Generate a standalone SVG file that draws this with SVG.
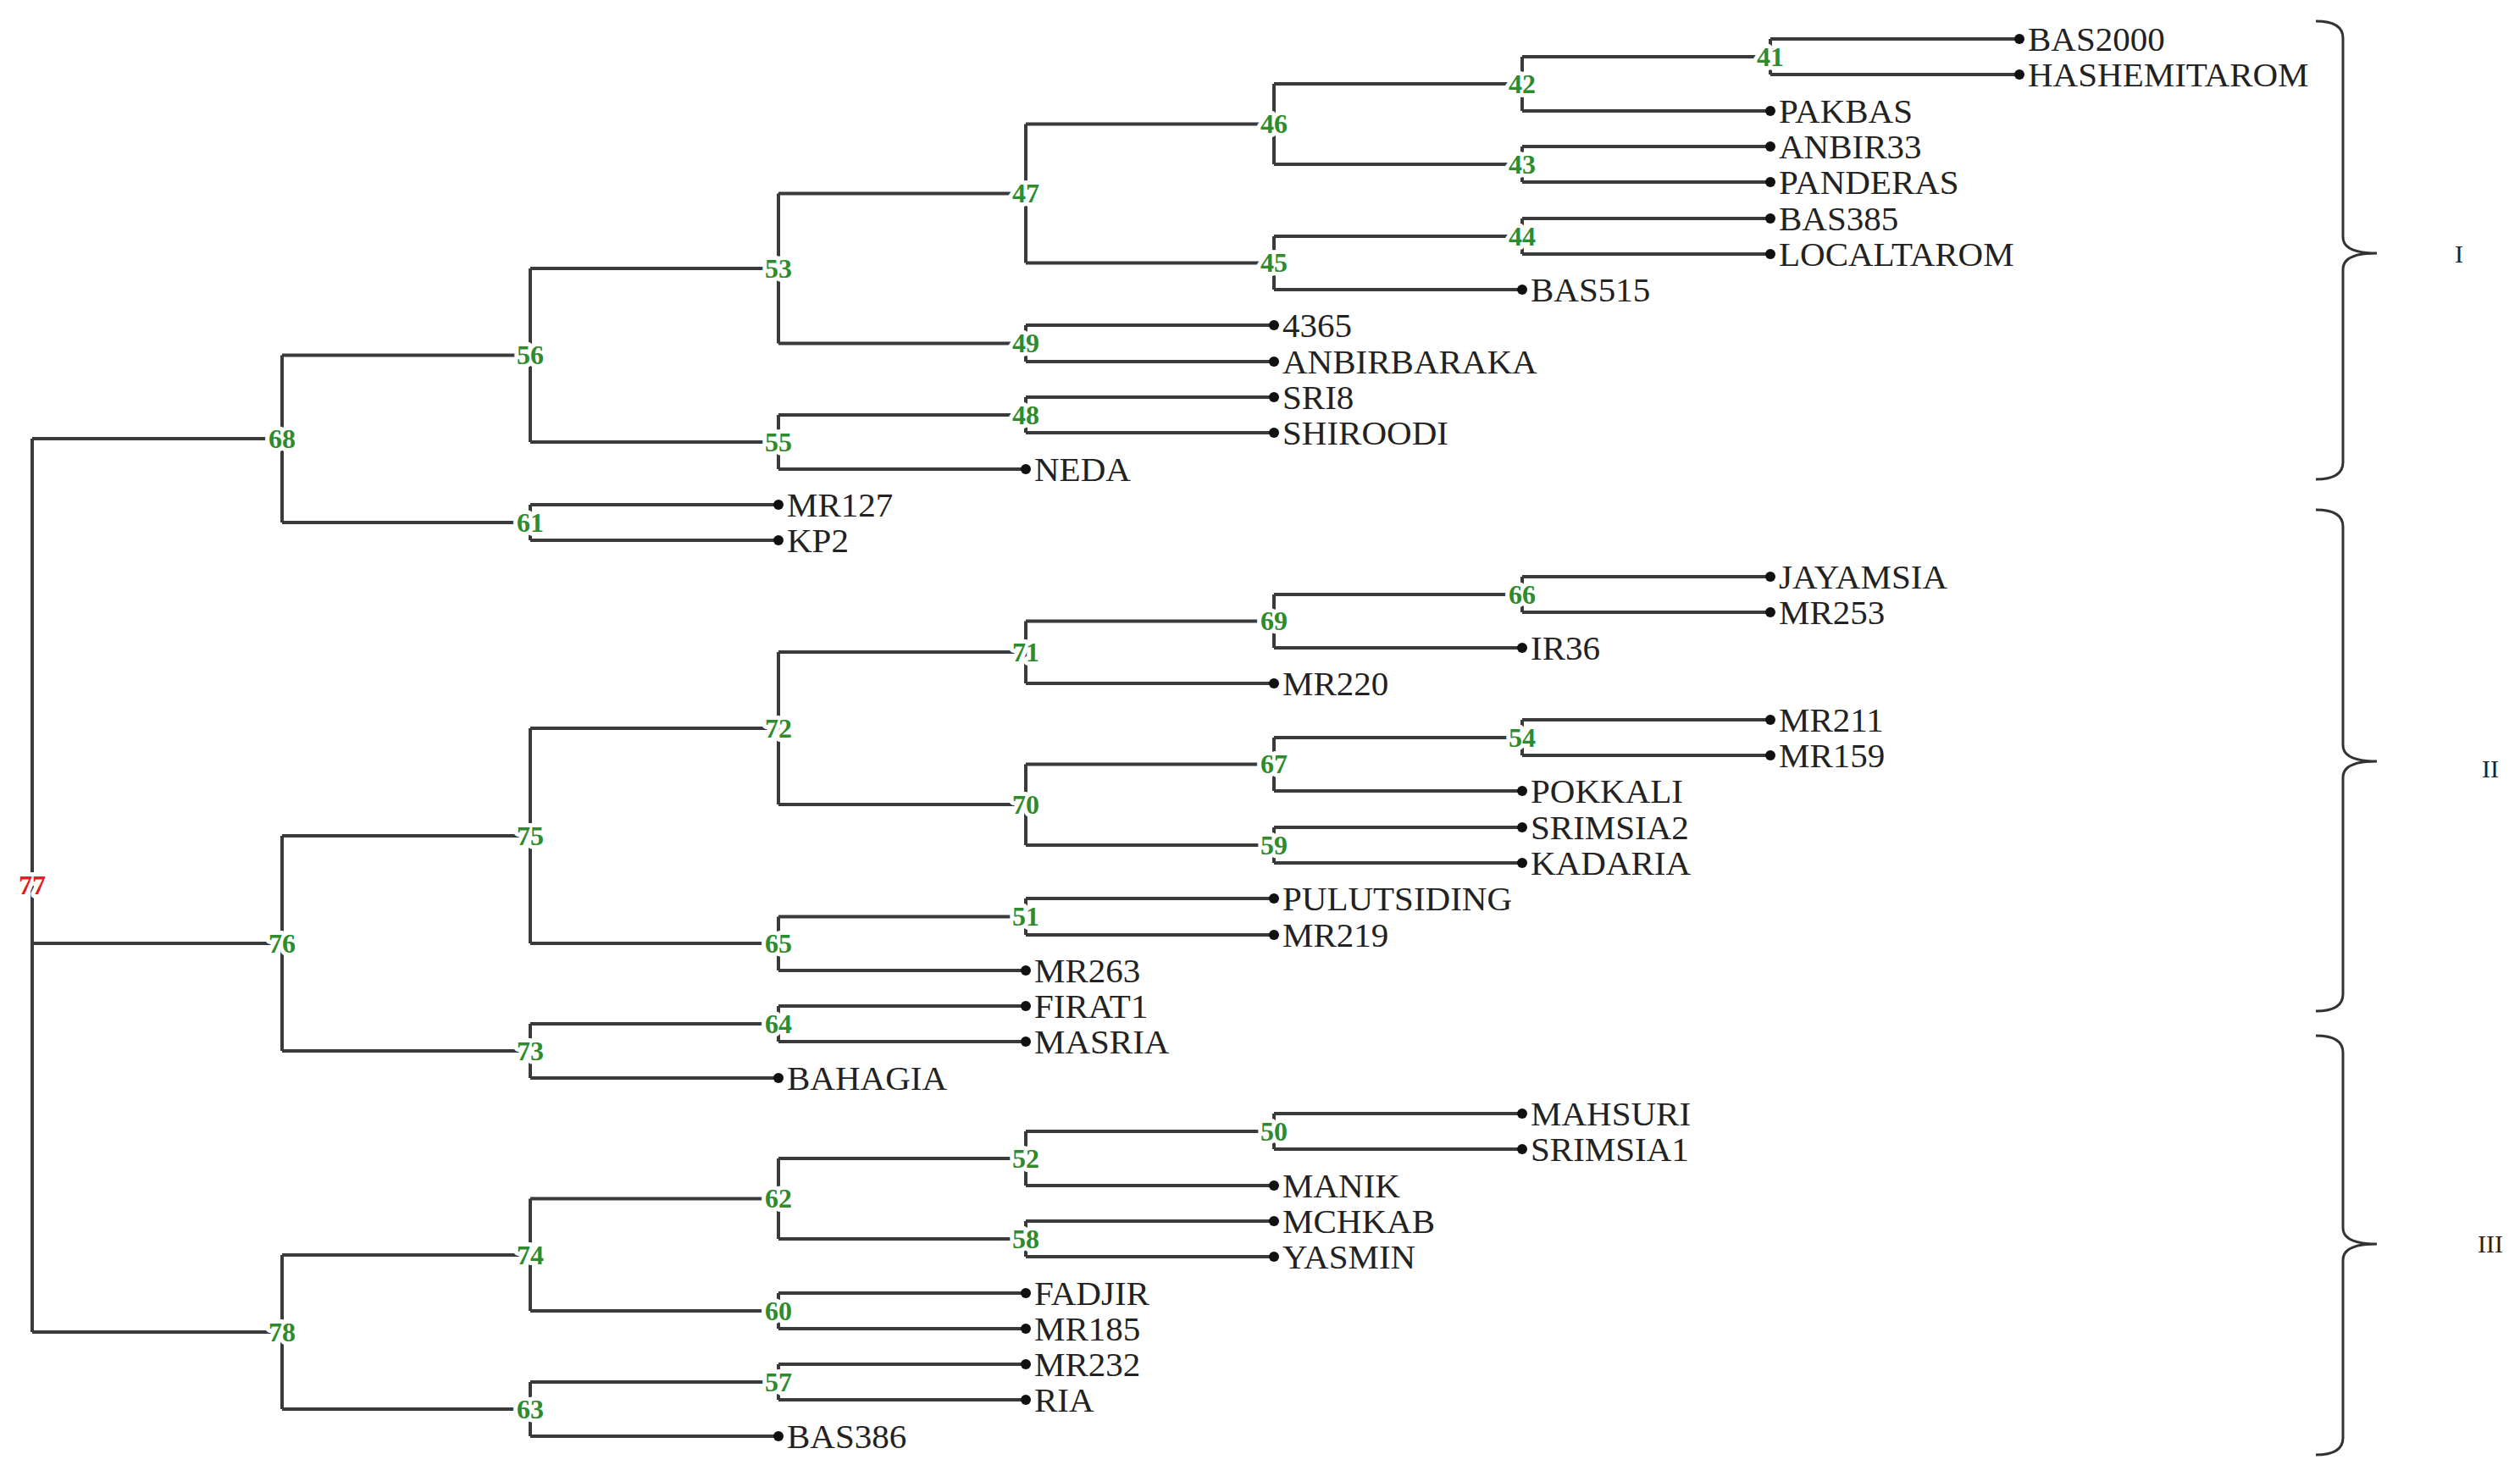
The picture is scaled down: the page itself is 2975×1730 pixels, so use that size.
<svg xmlns="http://www.w3.org/2000/svg" width="2975" height="1730" viewBox="0 0 2975 1730">
<style>
.e{fill:none;stroke:#3a3a3a;stroke-width:4}
.n{font-family:"Liberation Serif",serif;font-weight:bold;font-size:32px;fill:#2e8b2e;text-anchor:middle;stroke:#fff;stroke-width:10px;paint-order:stroke;stroke-linejoin:round}
.r{fill:#e02020}
.l{font-family:"Liberation Serif",serif;font-size:41px;fill:#222}
.d{fill:#111}
.b{fill:none;stroke:#333;stroke-width:3}
.c{font-family:"Liberation Serif",serif;font-size:30px;fill:#222}
</style>
<g id="connectors">
<path class="e" d="M2090 46V88M2090 46H2384M2090 88H2384"/>
<path class="e" d="M1797 67V131M1797 67H2090M1797 131H2090"/>
<path class="e" d="M1797 173V215M1797 173H2090M1797 215H2090"/>
<path class="e" d="M1504 99V194M1504 99H1797M1504 194H1797"/>
<path class="e" d="M1797 258V300M1797 258H2090M1797 300H2090"/>
<path class="e" d="M1504 279V342M1504 279H1797M1504 342H1797"/>
<path class="e" d="M1211 146.5V310.5M1211 146.5H1504M1211 310.5H1504"/>
<path class="e" d="M1211 384V427M1211 384H1504M1211 427H1504"/>
<path class="e" d="M919 228.5V405.5M919 228.5H1211M919 405.5H1211"/>
<path class="e" d="M1211 469V511M1211 469H1504M1211 511H1504"/>
<path class="e" d="M919 490V554M919 490H1211M919 554H1211"/>
<path class="e" d="M626 317V522M626 317H919M626 522H919"/>
<path class="e" d="M626 596V638M626 596H919M626 638H919"/>
<path class="e" d="M333 419.5V617M333 419.5H626M333 617H626"/>
<path class="e" d="M1797 681V723M1797 681H2090M1797 723H2090"/>
<path class="e" d="M1504 702V765M1504 702H1797M1504 765H1797"/>
<path class="e" d="M1211 733.5V807M1211 733.5H1504M1211 807H1504"/>
<path class="e" d="M1797 850V892M1797 850H2090M1797 892H2090"/>
<path class="e" d="M1504 871V934M1504 871H1797M1504 934H1797"/>
<path class="e" d="M1504 977V1019M1504 977H1797M1504 1019H1797"/>
<path class="e" d="M1211 902.5V998M1211 902.5H1504M1211 998H1504"/>
<path class="e" d="M919 770V950M919 770H1211M919 950H1211"/>
<path class="e" d="M1211 1061V1104M1211 1061H1504M1211 1104H1504"/>
<path class="e" d="M919 1082.5V1146M919 1082.5H1211M919 1146H1211"/>
<path class="e" d="M626 860V1114M626 860H919M626 1114H919"/>
<path class="e" d="M919 1188V1230M919 1188H1211M919 1230H1211"/>
<path class="e" d="M626 1209V1273M626 1209H919M626 1273H919"/>
<path class="e" d="M333 987V1241M333 987H626M333 1241H626"/>
<path class="e" d="M1504 1315V1357M1504 1315H1797M1504 1357H1797"/>
<path class="e" d="M1211 1336V1400M1211 1336H1504M1211 1400H1504"/>
<path class="e" d="M1211 1442V1484M1211 1442H1504M1211 1484H1504"/>
<path class="e" d="M919 1368V1463M919 1368H1211M919 1463H1211"/>
<path class="e" d="M919 1527V1569M919 1527H1211M919 1569H1211"/>
<path class="e" d="M626 1415.5V1548M626 1415.5H919M626 1548H919"/>
<path class="e" d="M919 1611V1653M919 1611H1211M919 1653H1211"/>
<path class="e" d="M626 1632V1696M626 1632H919M626 1696H919"/>
<path class="e" d="M333 1482V1664M333 1482H626M333 1664H626"/>
<path class="e" d="M38 518V1573M38 518H333M38 1114H333M38 1573H333"/>
</g>
<g id="inner-nodes">
<g id="n41"><text class="n" x="2090" y="78">41</text></g>
<g id="n42"><text class="n" x="1797" y="110">42</text></g>
<g id="n43"><text class="n" x="1797" y="205">43</text></g>
<g id="n46"><text class="n" x="1504" y="157">46</text></g>
<g id="n44"><text class="n" x="1797" y="290">44</text></g>
<g id="n45"><text class="n" x="1504" y="321">45</text></g>
<g id="n47"><text class="n" x="1211" y="239">47</text></g>
<g id="n49"><text class="n" x="1211" y="416">49</text></g>
<g id="n53"><text class="n" x="919" y="328">53</text></g>
<g id="n48"><text class="n" x="1211" y="501">48</text></g>
<g id="n55"><text class="n" x="919" y="533">55</text></g>
<g id="n56"><text class="n" x="626" y="430">56</text></g>
<g id="n61"><text class="n" x="626" y="628">61</text></g>
<g id="n68"><text class="n" x="333" y="529">68</text></g>
<g id="n66"><text class="n" x="1797" y="713">66</text></g>
<g id="n69"><text class="n" x="1504" y="744">69</text></g>
<g id="n71"><text class="n" x="1211" y="781">71</text></g>
<g id="n54"><text class="n" x="1797" y="882">54</text></g>
<g id="n67"><text class="n" x="1504" y="913">67</text></g>
<g id="n59"><text class="n" x="1504" y="1009">59</text></g>
<g id="n70"><text class="n" x="1211" y="961">70</text></g>
<g id="n72"><text class="n" x="919" y="871">72</text></g>
<g id="n51"><text class="n" x="1211" y="1093">51</text></g>
<g id="n65"><text class="n" x="919" y="1125">65</text></g>
<g id="n75"><text class="n" x="626" y="998">75</text></g>
<g id="n64"><text class="n" x="919" y="1220">64</text></g>
<g id="n73"><text class="n" x="626" y="1252">73</text></g>
<g id="n76"><text class="n" x="333" y="1125">76</text></g>
<g id="n50"><text class="n" x="1504" y="1347">50</text></g>
<g id="n52"><text class="n" x="1211" y="1379">52</text></g>
<g id="n58"><text class="n" x="1211" y="1474">58</text></g>
<g id="n62"><text class="n" x="919" y="1426">62</text></g>
<g id="n60"><text class="n" x="919" y="1559">60</text></g>
<g id="n74"><text class="n" x="626" y="1493">74</text></g>
<g id="n57"><text class="n" x="919" y="1643">57</text></g>
<g id="n63"><text class="n" x="626" y="1675">63</text></g>
<g id="n78"><text class="n" x="333" y="1584">78</text></g>
<g id="n77"><text class="n r" x="38" y="1056">77</text></g>
</g>
<g id="leaves">
<g id="BAS2000"><circle class="d" cx="2384" cy="46" r="6"/><text class="l" x="2394" y="60">BAS2000</text></g>
<g id="HASHEMITAROM"><circle class="d" cx="2384" cy="88" r="6"/><text class="l" x="2394" y="102">HASHEMITAROM</text></g>
<g id="PAKBAS"><circle class="d" cx="2090" cy="131" r="6"/><text class="l" x="2100" y="145">PAKBAS</text></g>
<g id="ANBIR33"><circle class="d" cx="2090" cy="173" r="6"/><text class="l" x="2100" y="187">ANBIR33</text></g>
<g id="PANDERAS"><circle class="d" cx="2090" cy="215" r="6"/><text class="l" x="2100" y="229">PANDERAS</text></g>
<g id="BAS385"><circle class="d" cx="2090" cy="258" r="6"/><text class="l" x="2100" y="272">BAS385</text></g>
<g id="LOCALTAROM"><circle class="d" cx="2090" cy="300" r="6"/><text class="l" x="2100" y="314">LOCALTAROM</text></g>
<g id="BAS515"><circle class="d" cx="1797" cy="342" r="6"/><text class="l" x="1807" y="356">BAS515</text></g>
<g id="L4365"><circle class="d" cx="1504" cy="384" r="6"/><text class="l" x="1514" y="398">4365</text></g>
<g id="ANBIRBARAKA"><circle class="d" cx="1504" cy="427" r="6"/><text class="l" x="1514" y="441">ANBIRBARAKA</text></g>
<g id="SRI8"><circle class="d" cx="1504" cy="469" r="6"/><text class="l" x="1514" y="483">SRI8</text></g>
<g id="SHIROODI"><circle class="d" cx="1504" cy="511" r="6"/><text class="l" x="1514" y="525">SHIROODI</text></g>
<g id="NEDA"><circle class="d" cx="1211" cy="554" r="6"/><text class="l" x="1221" y="568">NEDA</text></g>
<g id="MR127"><circle class="d" cx="919" cy="596" r="6"/><text class="l" x="929" y="610">MR127</text></g>
<g id="KP2"><circle class="d" cx="919" cy="638" r="6"/><text class="l" x="929" y="652">KP2</text></g>
<g id="JAYAMSIA"><circle class="d" cx="2090" cy="681" r="6"/><text class="l" x="2100" y="695">JAYAMSIA</text></g>
<g id="MR253"><circle class="d" cx="2090" cy="723" r="6"/><text class="l" x="2100" y="737">MR253</text></g>
<g id="IR36"><circle class="d" cx="1797" cy="765" r="6"/><text class="l" x="1807" y="779">IR36</text></g>
<g id="MR220"><circle class="d" cx="1504" cy="807" r="6"/><text class="l" x="1514" y="821">MR220</text></g>
<g id="MR211"><circle class="d" cx="2090" cy="850" r="6"/><text class="l" x="2100" y="864">MR211</text></g>
<g id="MR159"><circle class="d" cx="2090" cy="892" r="6"/><text class="l" x="2100" y="906">MR159</text></g>
<g id="POKKALI"><circle class="d" cx="1797" cy="934" r="6"/><text class="l" x="1807" y="948">POKKALI</text></g>
<g id="SRIMSIA2"><circle class="d" cx="1797" cy="977" r="6"/><text class="l" x="1807" y="991">SRIMSIA2</text></g>
<g id="KADARIA"><circle class="d" cx="1797" cy="1019" r="6"/><text class="l" x="1807" y="1033">KADARIA</text></g>
<g id="PULUTSIDING"><circle class="d" cx="1504" cy="1061" r="6"/><text class="l" x="1514" y="1075">PULUTSIDING</text></g>
<g id="MR219"><circle class="d" cx="1504" cy="1104" r="6"/><text class="l" x="1514" y="1118">MR219</text></g>
<g id="MR263"><circle class="d" cx="1211" cy="1146" r="6"/><text class="l" x="1221" y="1160">MR263</text></g>
<g id="FIRAT1"><circle class="d" cx="1211" cy="1188" r="6"/><text class="l" x="1221" y="1202">FIRAT1</text></g>
<g id="MASRIA"><circle class="d" cx="1211" cy="1230" r="6"/><text class="l" x="1221" y="1244">MASRIA</text></g>
<g id="BAHAGIA"><circle class="d" cx="919" cy="1273" r="6"/><text class="l" x="929" y="1287">BAHAGIA</text></g>
<g id="MAHSURI"><circle class="d" cx="1797" cy="1315" r="6"/><text class="l" x="1807" y="1329">MAHSURI</text></g>
<g id="SRIMSIA1"><circle class="d" cx="1797" cy="1357" r="6"/><text class="l" x="1807" y="1371">SRIMSIA1</text></g>
<g id="MANIK"><circle class="d" cx="1504" cy="1400" r="6"/><text class="l" x="1514" y="1414">MANIK</text></g>
<g id="MCHKAB"><circle class="d" cx="1504" cy="1442" r="6"/><text class="l" x="1514" y="1456">MCHKAB</text></g>
<g id="YASMIN"><circle class="d" cx="1504" cy="1484" r="6"/><text class="l" x="1514" y="1498">YASMIN</text></g>
<g id="FADJIR"><circle class="d" cx="1211" cy="1527" r="6"/><text class="l" x="1221" y="1541">FADJIR</text></g>
<g id="MR185"><circle class="d" cx="1211" cy="1569" r="6"/><text class="l" x="1221" y="1583">MR185</text></g>
<g id="MR232"><circle class="d" cx="1211" cy="1611" r="6"/><text class="l" x="1221" y="1625">MR232</text></g>
<g id="RIA"><circle class="d" cx="1211" cy="1653" r="6"/><text class="l" x="1221" y="1667">RIA</text></g>
<g id="BAS386"><circle class="d" cx="919" cy="1696" r="6"/><text class="l" x="929" y="1710">BAS386</text></g>
</g>
<g id="clusters">
<g id="cluster-I"><path class="b" d="M2734 25Q2766 25 2766 45V280Q2766 299 2806 299Q2766 299 2766 318V546Q2766 566 2734 566"/><text class="c" x="2903" y="310" text-anchor="middle">I</text></g>
<g id="cluster-II"><path class="b" d="M2734 602Q2766 602 2766 622V880Q2766 899 2806 899Q2766 899 2766 918V1174Q2766 1194 2734 1194"/><text class="c" x="2940" y="918" text-anchor="middle">II</text></g>
<g id="cluster-III"><path class="b" d="M2734 1223Q2766 1223 2766 1243V1450Q2766 1469 2806 1469Q2766 1469 2766 1488V1698Q2766 1718 2734 1718"/><text class="c" x="2940" y="1479" text-anchor="middle">III</text></g>
</g>
</svg>
